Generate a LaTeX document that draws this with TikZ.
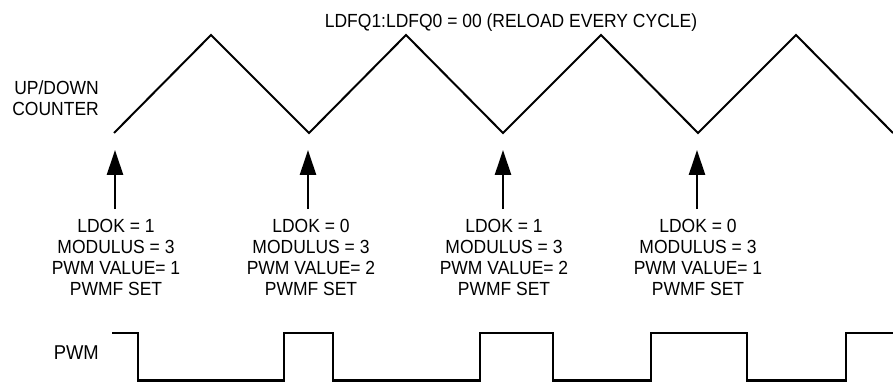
\documentclass[tikz,border=0pt]{standalone}
\usepackage{fontspec}
\setmainfont[FakeStretch=0.92]{Liberation Sans}
\usetikzlibrary{arrows.meta}
\begin{document}
\begin{tikzpicture}[x=1pt,y=-1pt,
  lbl/.style={inner sep=0pt,font=\fontsize{19}{21}\selectfont},
  info/.style={lbl,align=center,anchor=north},
  wave/.style={line width=2pt,line join=miter},
  pwmwave/.style={line width=2.6pt,line join=miter},
  ptr/.style={line width=2.6pt,-{Triangle[length=25pt,width=16pt]},shorten <=10pt}]
\useasboundingbox (0,0) rectangle (893,382);
% title
\node[lbl,anchor=base] (title) at (511,28) {LDFQ1:LDFQ0 = 00 (RELOAD EVERY CYCLE)};
% labels
\node[lbl,align=right,anchor=north east] (udc) at (99,81) {UP/DOWN\\COUNTER};
\node[lbl,anchor=base east,font=\fontsize{20}{21}\selectfont] (pwm) at (99,359) {PWM};
% triangle wave
\coordinate (v0) at (114,133);
\coordinate (v1) at (309,133);
\coordinate (v2) at (503,133);
\coordinate (v3) at (698,133);
\coordinate (v4) at (893,133);
\draw[wave] (v0) -- (211,35) -- (v1) -- (406,35) -- (v2) -- (601,35) -- (v3) -- (796,35) -- (v4);
% info blocks
\node[info] (t1) at (116,219) {LDOK = 1\\MODULUS = 3\\PWM VALUE= 1\\PWMF SET};
\node[info] (t2) at (311,219) {LDOK = 0\\MODULUS = 3\\PWM VALUE= 2\\PWMF SET};
\node[info] (t3) at (504,219) {LDOK = 1\\MODULUS = 3\\PWM VALUE= 2\\PWMF SET};
\node[info] (t4) at (698,219) {LDOK = 0\\MODULUS = 3\\PWM VALUE= 1\\PWMF SET};
\coordinate (a1) at (115,150);
\coordinate (a2) at (308,150);
\coordinate (a3) at (503,150);
\coordinate (a4) at (697,150);
\draw[ptr] (t1.north -| a1) -- (a1);
\draw[ptr] (t2.north -| a2) -- (a2);
\draw[ptr] (t3.north -| a3) -- (a3);
\draw[ptr] (t4.north -| a4) -- (a4);
% PWM wave
\draw[pwmwave] (112,333) -- (138,333) -- (138,380.5) -- (284,380.5) -- (284,333) -- (333,333) -- (333,380.5)
  -- (480,380.5) -- (480,333) -- (553,333) -- (553,380.5) -- (651,380.5) -- (651,333) -- (747,333)
  -- (747,380.5) -- (846,380.5) -- (846,333) -- (893,333);
\end{tikzpicture}
\end{document}
